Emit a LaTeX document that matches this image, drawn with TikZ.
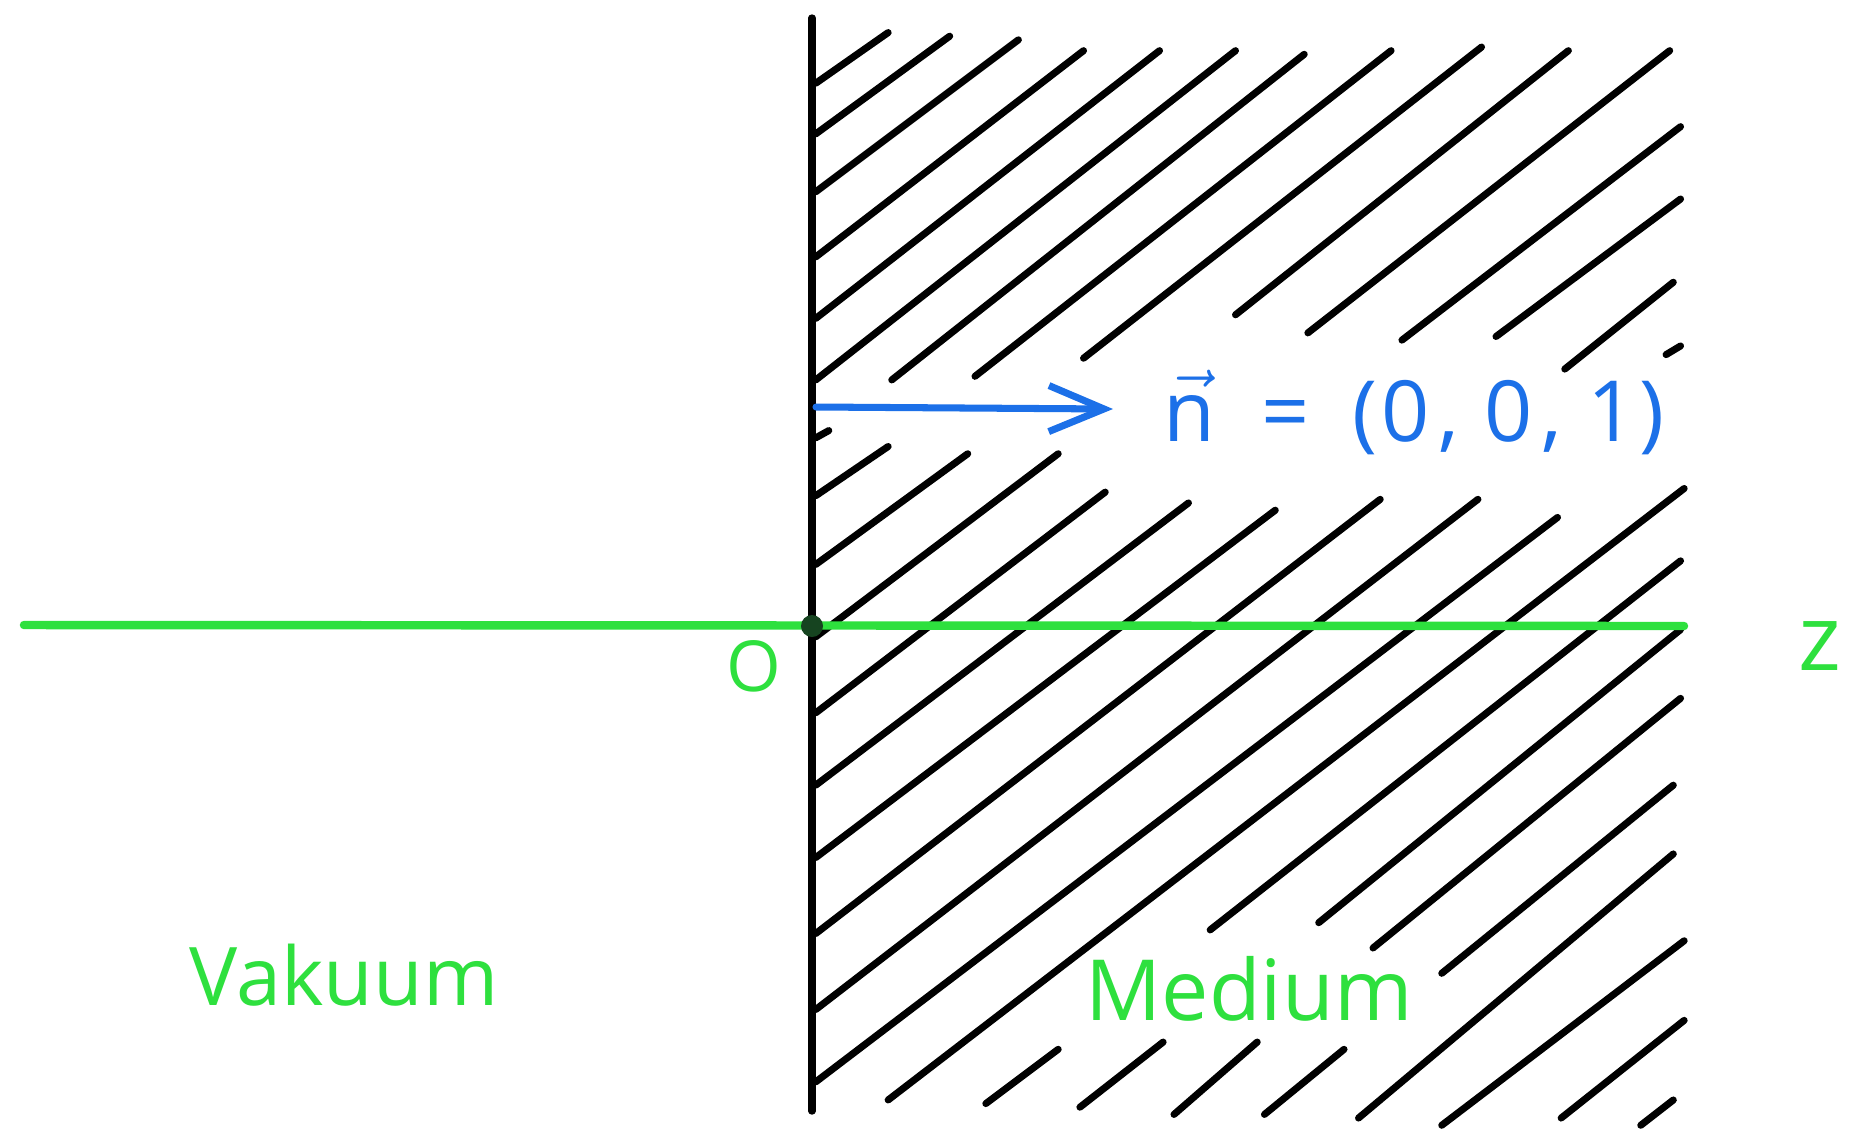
\documentclass[tikz,border=0pt]{standalone}
\usepackage{fontspec}
\setmainfont{Open Sans}
\usetikzlibrary{arrows.meta}
\definecolor{pengreen}{RGB}{46,224,62}
\definecolor{penblue}{RGB}{28,112,232}
\definecolor{dotgreen}{RGB}{22,68,32}
\tikzset{
  hatchline/.style={line width=2pt, line cap=round, black},
  wallline/.style={line width=2.1pt, line cap=round, black},
  axisline/.style={line width=2.4pt, line cap=round, pengreen},
  normalarrow/.style={line width=2pt, line cap=round, penblue,
    -{Straight Barb[length=0.55cm, width=0.46cm, line width=2pt]}},
  greenlabel/.style={text=pengreen, inner sep=0pt},
  bluelabel/.style={text=penblue, inner sep=0pt},
  origindot/.style={circle, fill=dotgreen, minimum size=0.22cm, inner sep=0pt}
}
\begin{document}
\begin{tikzpicture}[x=0.01cm, y=-0.01cm]
\useasboundingbox (0,0) rectangle (1859,1135);
\fill[white] (0,0) rectangle (1859,1135);

% hatching of the medium (coordinates of a 1.3815x view of the region right of x=700)
\begin{scope}[shift={(700,0)}, x=0.0072386cm, y=-0.0072386cm]
\foreach \xa/\ya/\xb/\yb in {
  160/115/260/45, 160/185/345/50, 160/265/440/55, 160/355/530/70,
  160/440/635/70, 160/525/740/70, 265/525/835/75, 380/520/955/70,
  530/495/1080/65, 740/435/1200/70, 840/460/1340/70, 970/470/1355/175,
  1100/465/1355/275, 1195/510/1345/390, 1335/490/1355/478, 160/605/178/595,
  160/685/260/617, 160/780/370/627, 160/880/495/627, 160/985/560/680,
  160/1085/675/695, 160/1185/795/705, 160/1290/940/690, 160/1395/1075/690,
  160/1495/1185/715, 260/1520/1360/675,
  395/1525/495/1450, 705/1285/1355/775,
  525/1530/640/1440, 855/1275/1355/870,
  655/1540/770/1440, 930/1310/1355/965,
  780/1540/890/1450, 1025/1345/1345/1085,
  910/1545/1345/1180, 1025/1555/1360/1300,
  1190/1545/1360/1410, 1300/1555/1345/1520}
  \draw[hatchline] (\xa,\ya) -- (\xb,\yb);
\end{scope}

% wall
\coordinate (walltop) at (812,18);
\coordinate (wallbottom) at (812,1111);
\draw[wallline] (walltop) -- (wallbottom);

% z axis
\coordinate (axisleft) at (24,625);
\coordinate (axisright) at (1684,626);
\draw[axisline] (axisleft) -- (axisright);
\node[origindot] (origin) at (812,626) {};
\node[greenlabel, font=\fontsize{20}{24}\selectfont] (olabel) at (754,666) {O};
\node[greenlabel, font=\fontsize{26}{30}\selectfont] (zlabel) at (1820,646) {z};

% normal vector
\coordinate (nstart) at (816,407);
\coordinate (nend) at (1113,409);
\draw[normalarrow] (nstart) -- (nend);
\node[bluelabel, anchor=base west, font=\fontsize{24}{28}\selectfont] (nlabel) at (1163,441)
  {$\vec{\mbox{n}}$\hspace{0.55em}=\hspace{0.5em}(\hspace{0.05em}0\hspace{0.1em},\hspace{0.3em}0\hspace{0.1em},\hspace{0.3em}1\hspace{0.05em})};

% region labels
\node[greenlabel, anchor=base, font=\fontsize{23}{27}\selectfont] (vakuum) at (344,1005) {Vakuum};
\node[greenlabel, anchor=base, font=\fontsize{24}{28}\selectfont] (medium) at (1249,1020) {Medium};
\end{tikzpicture}
\end{document}
